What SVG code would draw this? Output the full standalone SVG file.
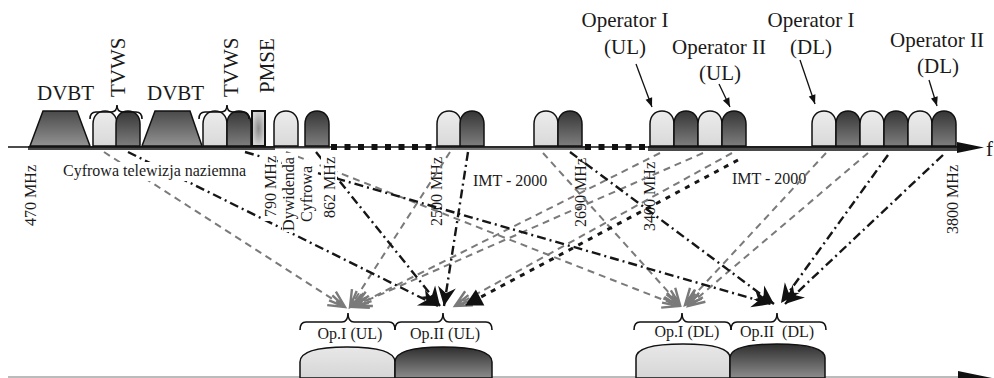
<svg xmlns="http://www.w3.org/2000/svg" width="994" height="378" viewBox="0 0 994 378">
<defs>
<style>
text{font-family:"Liberation Serif","Times New Roman",serif;fill:#1a1a1a}
.big{font-size:21px}
.sm{font-size:16px}
.lb{fill:url(#gL);stroke:#111;stroke-width:1.5}
.db{fill:url(#gD);stroke:#111;stroke-width:1.5}
.brace{fill:none;stroke:#111;stroke-width:1.6}
.g{fill:none;stroke:#7a7a7a;stroke-width:2;stroke-dasharray:7 5;marker-end:url(#ag)}
.k{fill:none;stroke:#161616;stroke-width:2.4;stroke-dasharray:9 4 2 4;marker-end:url(#ak)}
.kd{fill:none;stroke:#161616;stroke-width:3;stroke-dasharray:5 6;marker-end:url(#at)}
.pt{fill:none;stroke:#111;stroke-width:1.3;marker-end:url(#ap)}
.wb{fill:#fff}
.sq{fill:#111}
</style>
<linearGradient id="gL" x1="0" y1="0" x2="0" y2="1"><stop offset="0" stop-color="#ececec"/><stop offset="1" stop-color="#d9d9d9"/></linearGradient>
<linearGradient id="gD" x1="0" y1="0" x2="0" y2="1"><stop offset="0" stop-color="#353535"/><stop offset="1" stop-color="#7e7e7e"/></linearGradient>
<linearGradient id="gT" x1="0" y1="0" x2="0" y2="1"><stop offset="0" stop-color="#4a4a4a"/><stop offset="1" stop-color="#929292"/></linearGradient>
<radialGradient id="gP" cx="0.5" cy="0.5" r="0.5"><stop offset="0" stop-color="#8a8a8a"/><stop offset="1" stop-color="#d2d2d2"/></radialGradient>
<linearGradient id="gBL" x1="0" y1="0" x2="0" y2="1"><stop offset="0" stop-color="#e8e8e8"/><stop offset="1" stop-color="#d6d6d6"/></linearGradient>
<linearGradient id="gBD" x1="0" y1="0" x2="0" y2="1"><stop offset="0" stop-color="#2e2e2e"/><stop offset="1" stop-color="#8c8c8c"/></linearGradient>
<path id="bump" d="M0,35 V13 C0,5 5,0 12,0 C19,0 24,5 24,13 V35 Z"/>
<marker id="ag" markerUnits="userSpaceOnUse" markerWidth="24" markerHeight="24" viewBox="-20 -12 24 24" refX="0" refY="0" orient="auto" overflow="visible"><path d="M-16,-8 L0,0 L-16,8 M-17,-3 L0,0 L-17,3" fill="none" stroke="#7a7a7a" stroke-width="2.4" stroke-dasharray="none"/></marker>
<marker id="ak" markerUnits="userSpaceOnUse" markerWidth="24" markerHeight="24" viewBox="-20 -12 24 24" refX="0" refY="0" orient="auto" overflow="visible"><path d="M-19,-9 L0,0 L-19,9 L-13,0 Z" fill="#111"/></marker>
<marker id="at" markerUnits="userSpaceOnUse" markerWidth="24" markerHeight="24" viewBox="-20 -12 24 24" refX="0" refY="0" orient="auto" overflow="visible"><path d="M-16,-9 L1,0 L-16,9 Z" fill="#111"/></marker>
<marker id="ap" markerUnits="userSpaceOnUse" markerWidth="12" markerHeight="12" viewBox="-10 -5 12 10" refX="0" refY="0" orient="auto" overflow="visible"><path d="M-9,-3.5 L0,0 L-9,3.5 Z" fill="#111"/></marker>
</defs>
<rect width="994" height="378" fill="#fff"/>

<g id="axis">
<rect x="28" y="146" width="247" height="4" fill="#4a4a4a"/>
<rect x="275" y="146" width="55" height="3" fill="#aaa"/>
<rect x="435" y="146" width="150" height="4" fill="#777"/>
<rect x="648" y="146" width="310" height="5" fill="#4a4a4a"/>
<line x1="8" y1="147" x2="962" y2="147" stroke="#111" stroke-width="1.5"/>
<rect class="sq" x="331" y="144" width="6" height="6"/><rect class="sq" x="344.5" y="144" width="6" height="6"/><rect class="sq" x="358" y="144" width="6" height="6"/><rect class="sq" x="371.5" y="144" width="6" height="6"/><rect class="sq" x="385" y="144" width="6" height="6"/><rect class="sq" x="398.5" y="144" width="6" height="6"/><rect class="sq" x="412" y="144" width="6" height="6"/><rect class="sq" x="425.5" y="144" width="6" height="6"/>
<rect class="sq" x="585" y="144" width="6" height="6"/><rect class="sq" x="598.5" y="144" width="6" height="6"/><rect class="sq" x="612" y="144" width="6" height="6"/><rect class="sq" x="625.5" y="144" width="6" height="6"/><rect class="sq" x="639" y="144" width="6" height="6"/>
<polygon points="957,142 984,147.5 957,153" fill="#111"/>
<text x="986" y="156" class="big">f</text>
</g>

<g id="dvbt1"><path d="M30,146 L43,111 L77,111 L90,146 Z" fill="url(#gT)" stroke="#111" stroke-width="1.5"/><text x="37" y="100" class="big">DVBT</text></g>
<g id="tvws1">
<use href="#bump" x="93" y="111" class="lb"/><use href="#bump" x="116" y="111" class="db"/>
<path class="brace" d="M90,119 Q90,112 96,112 H111 Q117,112 117,105 Q117,112 123,112 H136 Q142,112 142,119"/>
<text class="big" transform="translate(125,97) rotate(-90)">TVWS</text>
</g>
<g id="dvbt2"><path d="M142,146 L155,111 L190,111 L202,146 Z" fill="url(#gT)" stroke="#111" stroke-width="1.5"/><text x="147" y="100" class="big">DVBT</text></g>
<g id="tvws2">
<use href="#bump" x="203" y="111" class="lb"/><use href="#bump" x="227" y="111" class="db"/>
<path class="brace" d="M199,119 Q199,112 205,112 H221 Q227,112 227,105 Q227,112 233,112 H243 Q249,112 249,119"/>
<text class="big" transform="translate(238,97) rotate(-90)">TVWS</text>
</g>
<g id="pmse">
<rect x="252" y="111" width="13" height="35" fill="url(#gP)" stroke="#111" stroke-width="2"/>
<text class="big" transform="translate(274,93) rotate(-90)">PMSE</text>
</g>
<g id="dywidenda-band"><use href="#bump" x="274" y="111" class="lb"/><use href="#bump" x="305" y="111" class="db"/></g>
<g id="band-2500"><use href="#bump" x="437" y="111" class="lb"/><use href="#bump" x="460" y="111" class="db"/></g>
<g id="band-2690"><use href="#bump" x="534" y="111" class="lb"/><use href="#bump" x="558" y="111" class="db"/></g>
<g id="band-ul"><use href="#bump" x="650" y="111" class="lb"/><use href="#bump" x="674" y="111" class="db"/><use href="#bump" x="698" y="111" class="lb"/><use href="#bump" x="722" y="111" class="db"/></g>
<g id="band-dl"><use href="#bump" x="812" y="111" class="lb"/><use href="#bump" x="836" y="111" class="db"/><use href="#bump" x="860" y="111" class="lb"/><use href="#bump" x="884" y="111" class="db"/><use href="#bump" x="908" y="111" class="lb"/><use href="#bump" x="932" y="111" class="db"/></g>

<g id="operator-labels">
<text class="big" x="625" y="27" text-anchor="middle">Operator I</text><text class="big" x="625" y="54" text-anchor="middle">(UL)</text>
<text class="big" x="719" y="54" text-anchor="middle">Operator II</text><text class="big" x="720" y="80" text-anchor="middle">(UL)</text>
<text class="big" x="811" y="27" text-anchor="middle">Operator I</text><text class="big" x="811" y="54" text-anchor="middle">(DL)</text>
<text class="big" x="937" y="47" text-anchor="middle">Operator II</text><text class="big" x="938" y="73" text-anchor="middle">(DL)</text>
</g>

<g id="freq-labels">
<text class="sm" text-anchor="end" transform="translate(36,165) rotate(-90)">470 MHz</text>
<text class="sm" text-anchor="end" transform="translate(442,157) rotate(-90)">2500 MHz</text>
<text class="sm" text-anchor="end" transform="translate(586,158) rotate(-90)">2690 MHz</text>
<text class="sm" text-anchor="end" transform="translate(655,162) rotate(-90)">3400 MHz</text>
<text class="sm" text-anchor="end" transform="translate(958,165) rotate(-90)">3800 MHz</text>
<text class="sm" x="473" y="186">IMT - 2000</text>
<text class="sm" x="732" y="184">IMT - 2000</text>
</g>

<g id="connectors">
<path class="pt" d="M636,64 L652,107"/>
<path class="pt" d="M719,84 L730,107"/>
<path class="pt" d="M800,60 L815,104"/>
<path class="pt" d="M929,80 L937,106"/>
<path class="g" d="M104,152 L345,307"/>
<path class="g" d="M450,152 L350,307"/>
<path class="g" d="M703,153 L352,307"/>
<path class="g" d="M660,153 L355,306"/>
<path class="g" d="M286,152 L679,306"/>
<path class="g" d="M543,153 L680,305"/>
<path class="g" d="M826,153 L685,305"/>
<path class="g" d="M868,153 L688,306"/>
<path class="g" d="M732,153 L455,306"/>
<path class="k" d="M128,152 L438,306"/>
<path class="k" d="M316,152 L440,306"/>
<path class="k" d="M468,152 L444,306"/>
<path class="k" d="M245,152 L771,304"/>
<path class="k" d="M570,152 L774,304"/>
<path class="k" d="M888,155 L781,303"/>
<path class="k" d="M943,155 L785,304"/>
<path class="kd" d="M738,160 L466,305"/>
</g>

<g id="masked-labels">
<rect class="wb" x="61" y="162" width="187" height="19"/>
<text class="sm" x="63" y="176">Cyfrowa telewizja naziemna</text>
<rect class="wb" x="262" y="153" width="15" height="68"/>
<text class="sm" text-anchor="end" transform="translate(276,156) rotate(-90)">790 MHz</text>
<rect class="wb" x="282" y="153" width="16" height="79"/>
<text class="sm" text-anchor="middle" transform="translate(294,194) rotate(-90)">Dywidenda</text>
<rect class="wb" x="299" y="160" width="16" height="64"/>
<text class="sm" text-anchor="middle" transform="translate(312,194) rotate(-90)">Cyfrowa</text>
<rect class="wb" x="321" y="153" width="16" height="68"/>
<text class="sm" text-anchor="end" transform="translate(335,157) rotate(-90)">862 MHz</text>
</g>

<g id="bottom-axis">
<line x1="8" y1="377" x2="962" y2="377" stroke="#bbb" stroke-width="2"/>
<polygon points="958,371 992,378 958,385" fill="#111"/>
</g>
<g id="op1-ul">
<path d="M300,378 V362 C300,351 318,347 347,347 C376,347 395,351 395,362 V378 Z" fill="url(#gBL)" stroke="#111" stroke-width="1.5"/>
<path class="brace" d="M300,330 Q300,322 306,322 H342 Q348,322 348,313 Q348,322 354,322 H389 Q395,322 395,330"/>
<text class="sm" x="350" y="339" text-anchor="middle">Op.I (UL)</text>
</g>
<g id="op2-ul">
<path d="M395,378 V362 C395,351 414,347 443,347 C472,347 492,351 492,362 V378 Z" fill="url(#gBD)" stroke="#111" stroke-width="1.5"/>
<path class="brace" d="M395,330 Q395,322 401,322 H437 Q443,322 443,313 Q443,322 449,322 H486 Q492,322 492,330"/>
<text class="sm" x="445" y="339" text-anchor="middle">Op.II (UL)</text>
</g>
<g id="op1-dl">
<path d="M636,378 V358 C636,348 655,344 683,344 C711,344 730,348 730,358 V378 Z" fill="url(#gBL)" stroke="#111" stroke-width="1.5"/>
<path class="brace" d="M634,330 Q634,322 640,322 H676 Q682,322 682,313 Q682,322 688,322 H725 Q731,322 731,330"/>
<text class="sm" x="687" y="337" text-anchor="middle">Op.I (DL)</text>
</g>
<g id="op2-dl">
<path d="M730,378 V358 C730,348 749,344 777,344 C805,344 825,348 825,358 V378 Z" fill="url(#gBD)" stroke="#111" stroke-width="1.5"/>
<path class="brace" d="M731,330 Q731,322 737,322 H771 Q777,322 777,313 Q777,322 783,322 H820 Q826,322 826,330"/>
<text class="sm" x="777" y="337" text-anchor="middle">Op.II&#160; (DL)</text>
</g>
</svg>
